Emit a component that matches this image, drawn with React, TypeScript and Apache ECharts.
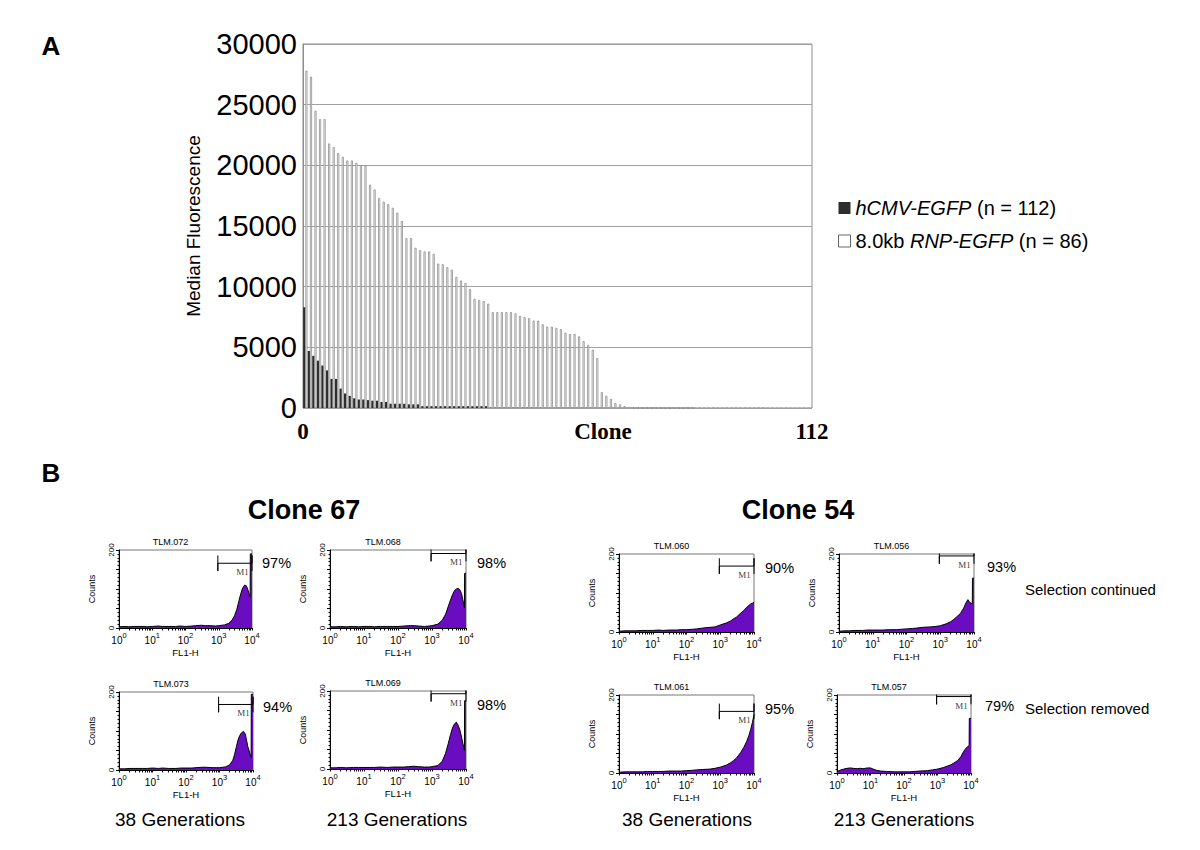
import { useEffect, useRef } from "react";
import * as echarts from "echarts";

// ---------- Panel A data ----------
const clones = Array.from({ length: 112 }, (_, i) => String(i + 1));
const cmvName = "hCMV-EGFP (n = 112)";
const rnpName = "8.0kb RNP-EGFP (n = 86)";

const cmvValues = [
  8300, 4700, 4300, 3900, 3500, 3100, 2400, 2400, 1600, 1200, 1000, 800, 700, 700, 650, 600, 600, 500, 500, 350,
  350, 350, 350, 300, 300, 300,
  150, 150, 150, 150, 150, 150, 150, 150, 150, 150, 150, 150, 150, 150, 150,
  30, 30, 30, 30, 30, 30, 30, 30, 30, 30,
  25, 25, 25, 25, 25, 25, 25, 25, 25, 25, 25, 25, 25, 25, 25,
  20, 20, 20, 20, 20, 20, 20, 20, 20, 20, 20, 20, 20, 20, 20, 20, 20, 20, 20, 20,
  15, 15, 15, 15, 15, 15, 15, 15, 15, 15, 15, 15, 15, 15, 15, 15,
  10, 10, 10, 10, 10, 10, 10, 10, 10, 10,
];

const rnpValues = [
  27800, 27300, 24500, 23800, 23800, 21800, 21500, 21000, 20700, 20400,
  20400, 20200, 20000, 20000, 18400, 18000, 17300, 17000, 16800, 16500,
  16100, 15400, 14000, 14000, 13200, 13000, 12900, 12900, 12700, 11900,
  11850, 11600, 11400, 10800, 10500, 10300, 9800, 9000, 8900, 8800,
  8600, 7900, 7900, 7900, 7900, 7900, 7800, 7600, 7500, 7400,
  7200, 7200, 6900, 6700, 6700, 6600, 6500, 6200, 6100, 6100,
  5900, 5500, 5200, 4800, 4100, 1300, 1000, 750, 400, 300,
  150, 60, 50, 40, 30, 30, 20, 20, 20, 10, 10, 10, 10, 10, 10, 10,
];

const xTickValues = [0, 66, 112];
const xTickNames: Record<number, string> = { 0: "0", 66: "Clone", 112: "112" };

// ---------- Panel B data ----------
const histNames = ["TLM.072", "TLM.068", "TLM.060", "TLM.056", "TLM.073", "TLM.069", "TLM.061", "TLM.057"];
const histPercents = ["97%", "98%", "90%", "93%", "94%", "98%", "95%", "79%"];
const gateLevels = [166, 191, 169, 195, 168, 193, 158, 196];
const gateStart = 940;
const gateEnd = 10000;
const gateLabelX = 5200;
const logTickValues = [
  1, 2, 3, 4, 5, 6, 7, 8, 9,
  10, 20, 30, 40, 50, 60, 70, 80, 90,
  100, 200, 300, 400, 500, 600, 700, 800, 900,
  1000, 2000, 3000, 4000, 5000, 6000, 7000, 8000, 9000,
  10000,
];
const logLabelValues = [1, 10, 100, 1000, 10000];

const hist072 = [[1,3],[1.5,4],[2,3],[3,4],[5,4],[7,3],[10,4],[15,5],[20,4],[30,4],[50,4],[70,5],[100,4],[150,5],[200,6],[300,7],[400,6],[600,6],[800,5],[1000,6],[1500,8],[2000,12],[2500,20],[3000,32],[3500,48],[4000,68],[4600,88],[5200,102],[6000,110],[6800,108],[7500,98],[8200,88],[8800,80],[8900,190],[10000,190]];
const hist068 = [[1,3],[1.5,3],[2,4],[3,3],[5,4],[7,3],[10,4],[15,4],[20,3],[30,4],[50,4],[70,4],[100,4],[150,5],[200,6],[300,6],[400,5],[600,4],[800,5],[1000,6],[1500,10],[2000,20],[2500,35],[3000,55],[3500,72],[4000,85],[4600,96],[5200,100],[5900,102],[6600,98],[7400,88],[8100,72],[8800,58],[9000,52],[9100,140],[10000,140]];
const hist060 = [[1,2],[1.5,3],[2,3],[3,3],[5,4],[7,4],[10,4],[15,5],[20,4],[30,5],[50,5],[70,6],[100,6],[150,7],[200,8],[300,10],[500,12],[700,13],[1000,18],[1500,23],[2000,28],[2500,34],[3000,38],[4000,48],[5000,55],[6000,63],[7000,68],[8000,72],[9000,74],[10000,76]];
const hist056 = [[1,2],[1.5,3],[2,3],[3,4],[5,4],[7,5],[10,5],[15,5],[20,5],[30,6],[50,6],[70,7],[100,8],[150,9],[200,10],[300,12],[500,13],[700,14],[1000,16],[1500,21],[2000,26],[2500,32],[3000,38],[4000,48],[5000,62],[5800,75],[6600,83],[7400,76],[8200,74],[8900,72],[9000,138],[10000,138]];
const hist073 = [[1,3],[1.5,3],[2,4],[3,4],[5,4],[7,4],[10,5],[15,4],[20,5],[30,4],[50,4],[70,5],[100,5],[150,5],[200,6],[300,7],[400,7],[600,6],[800,6],[1000,6],[1500,8],[2000,13],[2500,25],[2800,39],[3200,60],[3600,78],[4000,88],[4500,95],[5200,99],[5900,92],[6300,80],[7000,60],[7500,52],[8300,39],[8800,32],[8900,194],[10000,194]];
const hist069 = [[1,3],[1.5,3],[2,4],[3,3],[5,4],[7,4],[10,4],[15,4],[20,4],[30,5],[50,4],[70,5],[100,5],[150,5],[200,6],[300,7],[400,6],[600,5],[800,5],[1000,6],[1500,9],[2000,20],[2500,40],[3000,65],[3500,88],[4000,105],[4600,116],[5200,120],[5900,112],[6600,100],[7400,82],[8100,65],[8800,52],[9000,48],[9100,175],[10000,175]];
const hist061 = [[1,2],[1.5,3],[2,3],[3,3],[5,3],[7,4],[10,4],[15,4],[20,4],[30,5],[50,5],[70,5],[100,6],[150,7],[200,8],[300,9],[500,10],[700,12],[1000,15],[1500,20],[2000,26],[2500,32],[3000,38],[4000,52],[5000,66],[6000,80],[7000,95],[8000,112],[9000,130],[10000,150]];
const hist057 = [[1,4],[1.3,8],[1.6,10],[2,12],[2.5,13],[3,12],[4,11],[5,12],[6,11],[7,12],[8,13],[10,13],[12,10],[15,7],[20,5],[30,4],[50,3],[70,3],[100,3],[150,3],[200,4],[300,5],[500,6],[700,8],[1000,10],[1500,14],[2000,18],[2500,21],[3000,25],[4000,32],[5000,42],[6000,55],[7000,63],[8000,68],[8800,70],[8900,140],[10000,140]];
const histData = [hist072, hist068, hist060, hist056, hist073, hist069, hist061, hist057];

// layout of the eight small plots
const panels = [
  { left: 119, top: 550, width: 133, height: 78 },
  { left: 330, top: 550, width: 136, height: 78 },
  { left: 619, top: 554, width: 135, height: 78 },
  { left: 839, top: 554, width: 135, height: 78 },
  { left: 119, top: 692, width: 134, height: 78 },
  { left: 330, top: 691, width: 136, height: 78 },
  { left: 619, top: 695, width: 135, height: 78 },
  { left: 837, top: 695, width: 134, height: 78 },
];
const percentPos = [
  [262, 563], [477, 563], [765, 568], [987, 567],
  [263, 707], [477, 705], [765, 709], [985, 706],
];

const FONT = "Liberation Sans, Arial, sans-serif";
const SERIF = "Liberation Serif, Times New Roman, serif";
const PURPLE = "#6a0dc0";

function buildOption() {
  const grids: any[] = [
    { left: 303, top: 44, width: 509, height: 364, show: true, borderColor: "#8c8c8c", borderWidth: 1 },
  ];
  const xAxes: any[] = [
    {
      type: "category", gridIndex: 0, data: clones,
      axisLine: { show: false }, axisTick: { show: false }, axisLabel: { show: false }, splitLine: { show: false },
    },
    {
      type: "value", gridIndex: 0, min: 0, max: 112, position: "bottom",
      axisLine: { show: false }, axisTick: { show: false }, splitLine: { show: false },
      axisLabel: {
        customValues: xTickValues,
        formatter: (v: number) => xTickNames[v] ?? "",
        fontFamily: SERIF, fontWeight: "bold", fontSize: 23, color: "#000", margin: 12,
      },
    },
  ];
  const yAxes: any[] = [
    {
      type: "value", gridIndex: 0, min: 0, max: 30000, interval: 5000,
      axisLine: { show: true, lineStyle: { color: "#8c8c8c" } },
      axisTick: { show: false },
      splitLine: { show: true, lineStyle: { color: "#a0a0a0", width: 1 } },
      axisLabel: { fontSize: 29, color: "#000", margin: 6, fontFamily: FONT, formatter: (v: number) => String(v) },
      name: "Median Fluorescence", nameLocation: "middle", nameGap: 100, nameMoveOverlap: false,
      nameTextStyle: { fontSize: 19, color: "#000", fontFamily: FONT },
    },
  ];
  const series: any[] = [
    {
      name: cmvName, type: "bar", xAxisIndex: 0, yAxisIndex: 0, data: cmvValues,
      barWidth: 2.3, barGap: "0%", itemStyle: { color: "#2e2e2e" },
    },
    {
      name: rnpName, type: "bar", xAxisIndex: 0, yAxisIndex: 0, data: rnpValues,
      barWidth: 2, barGap: "0%", itemStyle: { color: "#ffffff", borderColor: "#7e7e7e", borderWidth: 0.7 },
    },
  ];
  const graphics: any[] = [];
  const txt = (x: number, y: number, text: string, style: any) =>
    graphics.push({ type: "text", x, y, silent: true, style: { text, fill: "#000", fontFamily: FONT, align: "center", verticalAlign: "middle", ...style } });

  txt(51, 46, "A", { fontSize: 26, fontWeight: "bold" });
  txt(51, 473, "B", { fontSize: 26, fontWeight: "bold" });
  txt(304, 510, "Clone 67", { fontSize: 27, fontWeight: "bold" });
  txt(798, 510, "Clone 54", { fontSize: 27, fontWeight: "bold" });
  txt(180, 819, "38 Generations", { fontSize: 19 });
  txt(397, 819, "213 Generations", { fontSize: 19 });
  txt(687, 819, "38 Generations", { fontSize: 19 });
  txt(904, 819, "213 Generations", { fontSize: 19 });
  txt(1025, 589, "Selection continued", { fontSize: 15, align: "left" });
  txt(1025, 708, "Selection removed", { fontSize: 15, align: "left" });

  panels.forEach((p, i) => {
    const gi = i + 1;
    grids.push({ ...p, show: true, borderColor: "#777", borderWidth: 1 });
    xAxes.push({
      type: "log", logBase: 10, gridIndex: gi, min: 1, max: 10000,
      axisLine: { show: true, lineStyle: { color: "#000", width: 1 } },
      axisTick: { show: true, length: 2.5, customValues: logTickValues, lineStyle: { color: "#000" } },
      splitLine: { show: false }, minorSplitLine: { show: false },
      axisLabel: {
        margin: 3,
        customValues: logLabelValues,
        formatter: (v: number) => `{b|10}{s|${Math.round(Math.log10(v))}}`,
        rich: {
          b: { fontSize: 10, color: "#000", lineHeight: 14, verticalAlign: "bottom", fontFamily: FONT },
          s: { fontSize: 7.5, color: "#000", lineHeight: 14, verticalAlign: "top", fontFamily: FONT },
        },
      },
      name: "FL1-H", nameLocation: "middle", nameGap: 19,
      nameTextStyle: { fontSize: 9.5, color: "#000", fontFamily: FONT },
    });
    yAxes.push({
      type: "value", gridIndex: gi, min: 0, max: 200, interval: 50,
      axisLine: { show: true, lineStyle: { color: "#000", width: 1 } },
      axisTick: { show: true, length: 3, lineStyle: { color: "#000" } },
      minorTick: { show: true, splitNumber: 5, length: 1.5, lineStyle: { color: "#000" } },
      splitLine: { show: false },
      axisLabel: {
        rotate: 90, fontSize: 8, color: "#000", margin: 4, fontFamily: FONT,
        formatter: (v: number) => (v === 0 || v === 200 ? String(v) : ""),
      },
      name: "Counts", nameLocation: "middle", nameGap: 23, nameMoveOverlap: false,
      nameTextStyle: { fontSize: 9, color: "#000", fontFamily: FONT },
    });
    const L = gateLevels[i];
    series.push({
      type: "line", xAxisIndex: gi + 1, yAxisIndex: gi, data: histData[i],
      symbol: "none", showSymbol: false, silent: true,
      lineStyle: { color: "#000", width: 1 }, areaStyle: { color: PURPLE, opacity: 1 },
    });
    series.push({
      type: "line", xAxisIndex: gi + 1, yAxisIndex: gi, silent: true, symbol: "none",
      data: [[gateStart, L + 20], [gateStart, L - 20], [gateStart, L], [gateEnd, L], [gateEnd, L + 20], [gateEnd, L - 20]],
      lineStyle: { color: "#000", width: 1 },
    });
    series.push({
      type: "scatter", xAxisIndex: gi + 1, yAxisIndex: gi, silent: true,
      data: [[gateLabelX, L - 23]], symbolSize: 1, itemStyle: { color: "rgba(0,0,0,0)" },
      label: { show: true, position: "inside", formatter: "M1", fontFamily: SERIF, fontSize: 9, color: "#000" },
    });
    txt(p.left + p.width / 2 - 15, p.top - 8, histNames[i], { fontSize: 9 });
    txt(percentPos[i][0], percentPos[i][1], histPercents[i], { fontSize: 14.5, align: "left" });
  });

  return {
    animation: false,
    backgroundColor: "#ffffff",
    textStyle: { fontFamily: FONT },
    grid: grids,
    xAxis: xAxes,
    yAxis: yAxes,
    legend: {
      orient: "vertical", left: 833, top: 193, itemWidth: 12, itemHeight: 12, itemGap: 13,
      icon: "rect", selectedMode: false,
      data: [
        { name: cmvName, itemStyle: { color: "#2e2e2e" } },
        { name: rnpName, itemStyle: { color: "#ffffff", borderColor: "#666", borderWidth: 1 } },
      ],
      formatter: (name: string) =>
        name === cmvName ? "{i|hCMV-EGFP}{r| (n = 112)}" : "{r|8.0kb }{i|RNP-EGFP}{r| (n = 86)}",
      textStyle: {
        fontSize: 20, color: "#000", fontFamily: FONT,
        rich: {
          i: { fontStyle: "italic", fontSize: 20, color: "#000", fontFamily: FONT },
          r: { fontSize: 20, color: "#000", fontFamily: FONT },
        },
      },
    },
    series,
    graphic: graphics,
  };
}

export default function App() {
  const ref = useRef<HTMLDivElement>(null);
  useEffect(() => {
    if (!ref.current) return;
    const chart = echarts.init(ref.current, undefined, { renderer: "svg" });
    chart.setOption(buildOption() as any);
    return () => chart.dispose();
  }, []);
  return <div ref={ref} style={{ position: "absolute", left: 0, top: 0, width: 1200, height: 850 }} />;
}
